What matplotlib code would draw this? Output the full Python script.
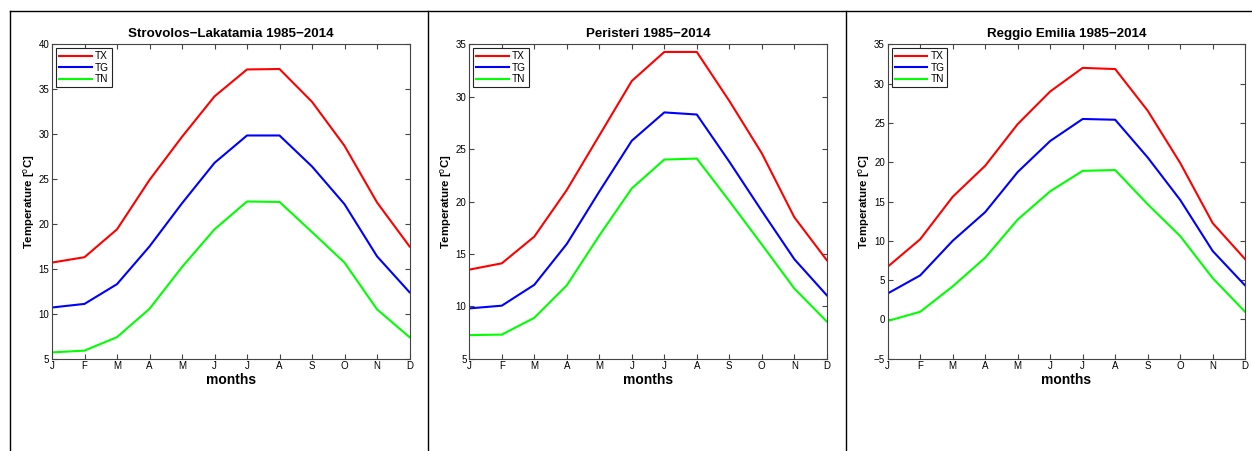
import matplotlib
matplotlib.use('Agg')
import matplotlib.pyplot as plt
from matplotlib.lines import Line2D

plt.rcParams['font.family'] = ['Liberation Sans', 'DejaVu Sans']

months = ['J', 'F', 'M', 'A', 'M', 'J', 'J', 'A', 'S', 'O', 'N', 'D']
month_num = list(range(1, 13))

# station 1: Strovolos-Lakatamia
tx_strovolos = [15.7, 16.3, 19.4, 24.9, 29.7, 34.2, 37.2, 37.25, 33.6, 28.7, 22.4, 17.5]
tg_strovolos = [10.7, 11.1, 13.3, 17.5, 22.3, 26.8, 29.85, 29.85, 26.4, 22.2, 16.4, 12.4]
tn_strovolos = [5.7, 5.9, 7.4, 10.55, 15.2, 19.4, 22.5, 22.45, 19.1, 15.7, 10.5, 7.4]

# station 2: Peristeri
tx_peristeri = [13.5, 14.1, 16.65, 21.1, 26.3, 31.5, 34.27, 34.27, 29.6, 24.6, 18.5, 14.4]
tg_peristeri = [9.8, 10.06, 12.05, 15.95, 20.95, 25.8, 28.5, 28.3, 23.8, 19.1, 14.5, 11.05]
tn_peristeri = [7.25, 7.3, 8.9, 12.0, 16.75, 21.25, 24.0, 24.1, 20.05, 15.9, 11.7, 8.55]

# station 3: Reggio Emilia
tx_reggio = [6.7, 10.2, 15.6, 19.55, 24.85, 29.0, 32.0, 31.85, 26.55, 19.9, 12.25, 7.65]
tg_reggio = [3.3, 5.6, 10.0, 13.65, 18.75, 22.7, 25.5, 25.4, 20.6, 15.2, 8.7, 4.3]
tn_reggio = [-0.2, 0.97, 4.2, 7.85, 12.7, 16.3, 18.9, 19.0, 14.65, 10.6, 5.25, 0.95]

titles = ['Strovolos\u2212Lakatamia 1985\u22122014', 'Peristeri 1985\u22122014', 'Reggio Emilia 1985\u22122014']
ylims = [(5, 40), (5, 35), (-5, 35)]
series = [(tx_strovolos, tg_strovolos, tn_strovolos),
          (tx_peristeri, tg_peristeri, tn_peristeri),
          (tx_reggio, tg_reggio, tn_reggio)]
lefts = [52, 469.3, 887.7]

W, H = 1252, 451
fig = plt.figure(figsize=(W/100, H/100), dpi=100)

# table-like frame
fig.add_artist(Line2D([10/W, 1], [1 - 11/H, 1 - 11/H], color='black', lw=1))
for xv in [10, 427.5, 845.5]:
    fig.add_artist(Line2D([xv/W, xv/W], [0, 1 - 11/H], color='black', lw=1))

for i in range(3):
    ax = fig.add_axes([lefts[i]/W, 92.3/H, 357.5/W, 314.4/H])
    tx, tg, tn = series[i]
    ax.plot(month_num, tx, color='#ff0000', lw=1.5, label='TX')
    ax.plot(month_num, tg, color='#0000ff', lw=1.5, label='TG')
    ax.plot(month_num, tn, color='#00ff00', lw=1.5, label='TN')
    ax.set_xlim(1, 12)
    ax.set_ylim(*ylims[i])
    ax.set_xticks(month_num)
    ax.set_xticklabels(months)
    ax.tick_params(direction='in', top=True, right=True, labelsize=7, length=3.5,
                   color='#444444', pad=2)
    for s in ax.spines.values():
        s.set_color('#444444')
        s.set_linewidth(0.8)
    ax.set_title(titles[i], fontsize=9.6, fontweight='bold', pad=5)
    ax.set_xlabel('months', fontsize=10, fontweight='bold', labelpad=1)
    ax.set_ylabel(r'Temperature [$^{\mathrm{o}}$C]', fontsize=8.2, fontweight='bold', labelpad=1)
    leg = ax.legend(loc='upper left', fontsize=7.3, handlelength=3.2, borderaxespad=0.4,
                    fancybox=False, framealpha=1, borderpad=0.3, labelspacing=0.15,
                    handletextpad=0.3)
    leg.get_frame().set_edgecolor('#222222')
    leg.get_frame().set_linewidth(0.8)

fig.savefig('out.png', dpi=100)
